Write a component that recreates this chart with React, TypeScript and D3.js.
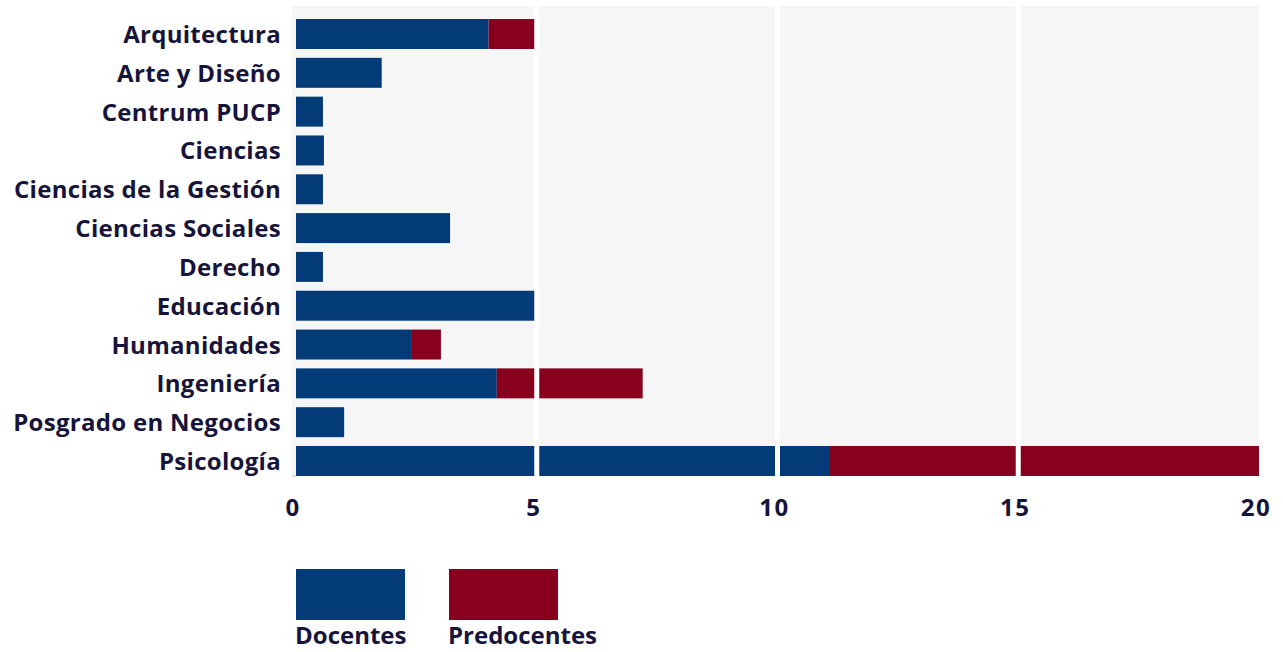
import React from "react";
import * as d3 from "d3";

const categories = [
  "Arquitectura",
  "Arte y Diseño",
  "Centrum PUCP",
  "Ciencias",
  "Ciencias de la Gestión",
  "Ciencias Sociales",
  "Derecho",
  "Educación",
  "Humanidades",
  "Ingeniería",
  "Posgrado en Negocios",
  "Psicología",
];
const docentes = [4, 1.78, 0.56, 0.58, 0.56, 3.2, 0.56, 5, 2.39, 4.17, 1.0, 11.07];
const predocentes = [1, 0, 0, 0, 0, 0, 0, 0, 0.62, 3.03, 0, 8.93];
const seriesNames = ["Docentes", "Predocentes"];
const seriesColors = ["#023b78", "#87001e"];
const xTicks = [0, 5, 10, 15, 20];
const gridTicks = [5, 10, 15];

const W = 1283;
const H = 652;
const FONT = "'Open Sans', 'Noto Sans', sans-serif";
const TEXT = "#16143a";

export default function App() {
  const x = d3.scaleLinear().domain([0, 20]).range([296, 1259]);
  const y = d3
    .scaleBand<string>()
    .domain(categories)
    .range([14.6, 480.4])
    .paddingInner(0.228)
    .paddingOuter(0.114);

  const rows = categories.map((c, i) => ({
    cat: c,
    Docentes: docentes[i],
    Predocentes: predocentes[i],
  }));
  const stack = d3.stack<any>().keys(seriesNames)(rows);

  const top = 6;
  const bottom = (y(categories[categories.length - 1]) as number) + y.bandwidth();

  return (
    <svg
      width={W}
      height={H}
      style={{ position: "absolute", left: 0, top: 0, display: "block" }}
      fontFamily={FONT}
    >
      <rect x={292} y={top} width={x(20) - 292} height={bottom - top} fill="#f6f6f6" />
      <line x1={292} x2={296} y1={bottom} y2={bottom} stroke="#bbbbbb" strokeWidth={1} />

      {stack.map((s, si) => (
        <g key={s.key} fill={seriesColors[si]}>
          {s.map((d: any, i: number) =>
            d[1] - d[0] > 0 ? (
              <rect
                key={i}
                x={x(d[0])}
                y={y(categories[i])}
                width={x(d[1]) - x(d[0])}
                height={y.bandwidth()}
              />
            ) : null
          )}
        </g>
      ))}

      {gridTicks.map((t) => (
        <line key={t} x1={x(t)} x2={x(t)} y1={top} y2={bottom} stroke="#ffffff" strokeWidth={5} />
      ))}

      {categories.map((c) => (
        <text
          key={c}
          x={281}
          y={(y(c) as number) + y.bandwidth() / 2 + 9}
          textAnchor="end"
          fontSize={24}
          fontWeight={700}
          letterSpacing={0.3}
          fill={TEXT}
        >
          {c}
        </text>
      ))}

      {xTicks.map((t) => (
        <text
          key={t}
          x={x(t) - 3}
          y={516}
          textAnchor="middle"
          fontSize={24}
          fontWeight={700}
          letterSpacing={1.5}
          fill={TEXT}
        >
          {t}
        </text>
      ))}

      {seriesNames.map((n, i) => {
        const lx = 296 + i * 153;
        return (
          <g key={n}>
            <rect x={lx} y={569} width={109} height={51} fill={seriesColors[i]} />
            <text x={lx - 1} y={644} fontSize={24} fontWeight={700} fill={TEXT}>
              {n}
            </text>
          </g>
        );
      })}
    </svg>
  );
}
